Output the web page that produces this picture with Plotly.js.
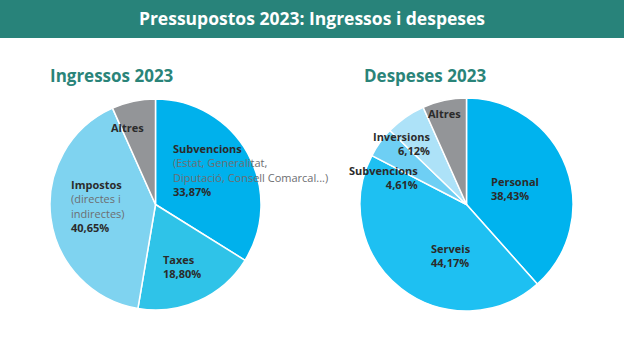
<!DOCTYPE html>
<html>
<head>
<meta charset="utf-8">
<script src="https://cdn.plot.ly/plotly-3.0.1.min.js"></script>
<style>html,body{margin:0;padding:0;background:#fff;}#chart{width:624px;height:351px;}</style>
</head>
<body>
<div id="chart"></div>
<script>
// Data
var ingLabels = ['Subvencions', 'Taxes', 'Impostos', 'Altres'];
var ingValues = [33.87, 18.80, 40.65, 6.68];
var ingNotes = ['(Estat, Generalitat,<br>Diputació, Consell Comarcal...)', '', '(directes i<br>indirectes)', ''];
var ingShowValue = [true, true, true, false];

var despLabels = ['Personal', 'Serveis', 'Subvencions', 'Inversions', 'Altres'];
var despValues = [38.43, 44.17, 4.61, 6.12, 6.67];
var despShowValue = [true, true, true, true, false];

// Styling
var W = 624, H = 351;
var ingColors = ['#00b1ec', '#2fc3e8', '#7fd3f0', '#939598'];
var despColors = ['#00b3ee', '#1ec0f2', '#6ecff4', '#ade2f8', '#939598'];
var ingLabelPos = [[171, 'left'], [161, 'left'], [69, 'left'], [109, 'left']];
var ingLabelY = [170, 266, 206, 128];
var despLabelPos = [[489, 'left'], [429, 'left'], [420, 'right'], [432, 'right'], [426, 'left']];
var despLabelY = [188, 255, 177, 143, 114];

function fmt(v) { return v.toFixed(2).replace('.', ',') + '%'; }
function px(x) { return x / W; }
function py(y) { return 1 - y / H; }

var textDark = '#2b2b2b', textGray = '#6d6e71';

function buildText(label, note, value, show) {
  var t = '<b>' + label + '</b>';
  if (note) t += '<br><span style="color:' + textGray + '">' + note + '</span>';
  if (show) t += '<br><b>' + fmt(value) + '</b>';
  return t;
}

var annotations = [];
ingLabels.forEach(function (l, i) {
  annotations.push({
    xref: 'paper', yref: 'paper', x: px(ingLabelPos[i][0]), y: py(ingLabelY[i]),
    xanchor: ingLabelPos[i][1], yanchor: 'middle', align: ingLabelPos[i][1], showarrow: false,
    text: buildText(l, ingNotes[i], ingValues[i], ingShowValue[i]),
    font: {family: 'Open Sans, sans-serif', size: 11, color: textDark}
  });
});
despLabels.forEach(function (l, i) {
  annotations.push({
    xref: 'paper', yref: 'paper', x: px(despLabelPos[i][0]), y: py(despLabelY[i]),
    xanchor: despLabelPos[i][1], yanchor: 'middle', align: despLabelPos[i][1], showarrow: false,
    text: buildText(l, '', despValues[i], despShowValue[i]),
    font: {family: 'Open Sans, sans-serif', size: 11, color: textDark}
  });
});
annotations.push({
  xref: 'paper', yref: 'paper', x: px(48), y: py(75), xanchor: 'left', yanchor: 'middle', showarrow: false,
  text: '<b>Ingressos 2023</b>', font: {family: 'Open Sans, sans-serif', size: 17, color: '#2a8479'}
});
annotations.push({
  xref: 'paper', yref: 'paper', x: px(362), y: py(75), xanchor: 'left', yanchor: 'middle', showarrow: false,
  text: '<b>Despeses 2023</b>', font: {family: 'Open Sans, sans-serif', size: 17, color: '#2a8479'}
});

var traces = [
  {
    type: 'pie', labels: ingLabels, values: ingValues, sort: false, direction: 'clockwise', rotation: 0,
    textinfo: 'none', hoverinfo: 'label+percent',
    marker: {colors: ingColors, line: {color: '#ffffff', width: 1.5}},
    domain: {x: [px(50), px(261)], y: [py(310), py(99)]}
  },
  {
    type: 'pie', labels: despLabels, values: despValues, sort: false, direction: 'clockwise', rotation: 0,
    textinfo: 'none', hoverinfo: 'label+percent',
    marker: {colors: despColors, line: {color: '#ffffff', width: 1.5}},
    domain: {x: [px(360), px(573)], y: [py(311), py(98)]}
  }
];

var layout = {
  width: W, height: H,
  margin: {l: 0, r: 0, t: 0, b: 0},
  paper_bgcolor: '#ffffff',
  showlegend: false,
  title: {
    text: '<b>Pressupostos 2023: Ingressos i despeses</b>',
    x: 0.5, xanchor: 'center', xref: 'paper',
    y: py(19), yanchor: 'middle', yref: 'container',
    font: {family: 'Open Sans, sans-serif', size: 17.5, color: '#ffffff'}
  },
  shapes: [{
    type: 'rect', xref: 'paper', yref: 'paper', x0: 0, x1: 1, y0: py(38), y1: 1,
    fillcolor: '#28837a', line: {width: 0}, layer: 'below'
  }],
  annotations: annotations
};

Plotly.newPlot('chart', traces, layout, {displayModeBar: false, staticPlot: true});
</script>
</body>
</html>
